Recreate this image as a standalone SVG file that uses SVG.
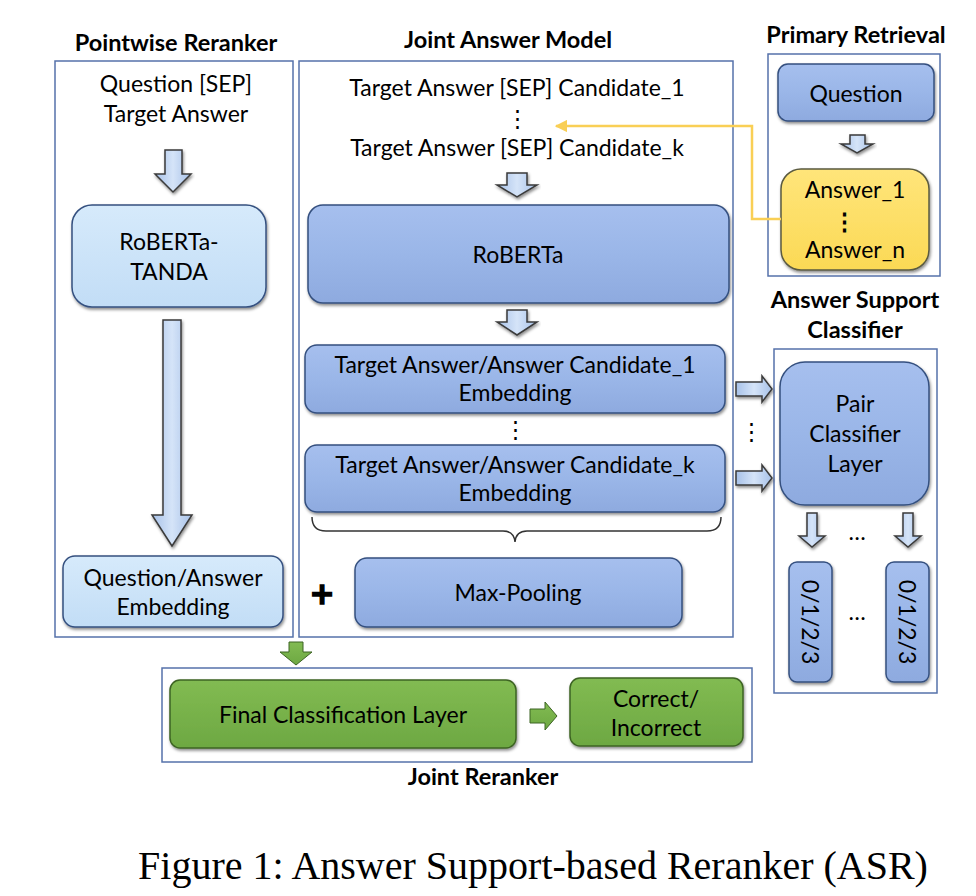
<svg xmlns="http://www.w3.org/2000/svg" width="976" height="896" viewBox="0 0 976 896">
<defs>
<style>
.panel{fill:none;stroke:#5572aa;stroke-width:1.5}
.title{font-family:Lato,"Liberation Sans",sans-serif;font-weight:bold;font-size:23.5px;fill:#000;text-anchor:middle}
.t{font-family:Lato,"Liberation Sans",sans-serif;font-size:23px;fill:#000;text-anchor:middle}
.blue{fill:url(#gBlue);stroke:#34507f;stroke-width:1.5;filter:url(#sh)}
.light{fill:url(#gLight);stroke:#34507f;stroke-width:1.5;filter:url(#sh)}
.yellow{fill:url(#gYellow);stroke:#5a5a40;stroke-width:1.5;filter:url(#sh)}
.green{fill:url(#gGreen);stroke:#3d6424;stroke-width:1.5;filter:url(#sh)}
.arr{fill:url(#gArr);stroke:#3a3a3a;stroke-width:1.5;filter:url(#sh)}
.garr{fill:url(#gGreen);stroke:#3d6424;stroke-width:1}
</style>
<linearGradient id="gBlue" x1="0" y1="0" x2="0" y2="1"><stop offset="0" stop-color="#a6bfee"/><stop offset="0.5" stop-color="#9ab6e8"/><stop offset="1" stop-color="#8eaadf"/></linearGradient>
<linearGradient id="gLight" x1="0" y1="0" x2="0" y2="1"><stop offset="0" stop-color="#d6eafb"/><stop offset="1" stop-color="#c2ddf6"/></linearGradient>
<linearGradient id="gYellow" x1="0" y1="0" x2="0" y2="1"><stop offset="0" stop-color="#ffe57a"/><stop offset="1" stop-color="#fbd955"/></linearGradient>
<linearGradient id="gGreen" x1="0" y1="0" x2="0" y2="1"><stop offset="0" stop-color="#82bb52"/><stop offset="1" stop-color="#6da842"/></linearGradient>
<linearGradient id="gArr" x1="0" y1="0" x2="1" y2="0"><stop offset="0" stop-color="#a7c1e8"/><stop offset="0.5" stop-color="#d5e4f8"/><stop offset="1" stop-color="#a7c1e8"/></linearGradient>
<filter id="sh" x="-10%" y="-10%" width="120%" height="130%"><feDropShadow dx="1" dy="2" stdDeviation="1.5" flood-color="#000" flood-opacity="0.45"/></filter>
<marker id="ya" viewBox="0 0 10 10" refX="9" refY="5" markerWidth="5" markerHeight="5" orient="auto-start-reverse"><path d="M0,0 L10,5 L0,10 z" fill="#f9cf55"/></marker>
</defs>
<rect width="976" height="896" fill="#fff"/>

<!-- Panels -->
<g id="pointwise-reranker">
<text class="title" x="176" y="51">Pointwise Reranker</text>
<rect class="panel" x="55" y="61" width="238" height="576"/>
<text class="t" x="176" y="92">Question [SEP]</text>
<text class="t" x="176" y="122">Target Answer</text>
</g>
<g id="joint-answer-model">
<text class="title" x="508" y="48">Joint Answer Model</text>
<rect class="panel" x="299" y="61" width="434" height="576"/>
<text class="t" x="517" y="96">Target Answer [SEP] Candidate_1</text>
<text class="t" x="517" y="126">⋮</text>
<text class="t" x="517" y="156">Target Answer [SEP] Candidate_k</text>
</g>
<g id="primary-retrieval">
<text class="title" x="856" y="43">Primary Retrieval</text>
<rect class="panel" x="768" y="54" width="172" height="222"/>
</g>
<g id="answer-support-classifier">
<text class="title" x="855" y="308">Answer Support</text>
<text class="title" x="855" y="338">Classifier</text>
<rect class="panel" x="774" y="349" width="163" height="344"/>
</g>
<g id="joint-reranker">
<rect class="panel" x="162" y="668" width="590" height="94"/>
<text class="title" x="483" y="785">Joint Reranker</text>
</g>

<!-- Nodes -->
<g id="roberta-tanda"><rect class="light" x="72" y="205" width="194" height="102" rx="20"/><text class="t" x="169" y="250">RoBERTa-</text><text class="t" x="169" y="280">TANDA</text></g>
<g id="qa-embedding"><rect class="light" x="63" y="556" width="220" height="71" rx="12"/><text class="t" x="173" y="586">Question/Answer</text><text class="t" x="173" y="615">Embedding</text></g>
<g id="roberta"><rect class="blue" x="308" y="205" width="421" height="98" rx="15"/><text class="t" x="518" y="263">RoBERTa</text></g>
<g id="embedding-1"><rect class="blue" x="305" y="345" width="420" height="68" rx="12"/><text class="t" x="515" y="373">Target Answer/Answer Candidate_1</text><text class="t" x="515" y="401">Embedding</text></g>
<text class="t" x="515" y="437">⋮</text>
<g id="embedding-k"><rect class="blue" x="305" y="445" width="420" height="67" rx="12"/><text class="t" x="515" y="473">Target Answer/Answer Candidate_k</text><text class="t" x="515" y="501">Embedding</text></g>
<g id="max-pooling"><rect class="blue" x="355" y="558" width="327" height="69" rx="12"/><text class="t" x="518" y="601">Max-Pooling</text></g>
<text x="322" y="604" font-family="DejaVu Sans,sans-serif" font-weight="bold" font-size="30" text-anchor="middle" fill="#000" stroke="#000" stroke-width="1.5">+</text>
<g id="question"><rect class="blue" x="778" y="64" width="156" height="57" rx="10"/><text class="t" x="856" y="102">Question</text></g>
<g id="answers"><rect class="yellow" x="781" y="169" width="148" height="101" rx="20"/><text class="t" x="855" y="198">Answer_1</text><text class="t" x="844" y="229" font-weight="bold">⋮</text><text class="t" x="855" y="258">Answer_n</text></g>
<g id="pair-classifier"><rect class="blue" x="780" y="362" width="149" height="143" rx="25"/><text class="t" x="855" y="412">Pair</text><text class="t" x="855" y="442">Classifier</text><text class="t" x="855" y="472">Layer</text></g>
<text class="t" x="751" y="439">⋮</text>
<text class="t" x="857" y="540">…</text>
<g id="label-1"><rect class="blue" x="789" y="562" width="43" height="120" rx="8"/><text class="t" transform="translate(802,622) rotate(90)" x="0" y="0">0/1/2/3</text></g>
<text class="t" x="857" y="620">…</text>
<g id="label-n"><rect class="blue" x="886" y="562" width="43" height="120" rx="8"/><text class="t" transform="translate(899,622) rotate(90)" x="0" y="0">0/1/2/3</text></g>
<g id="final-classification"><rect class="green" x="170" y="680" width="346" height="68" rx="10"/><text class="t" x="343" y="723">Final Classification Layer</text></g>
<g id="correct-incorrect"><rect class="green" x="570" y="678" width="173" height="68" rx="10"/><text class="t" x="656" y="707">Correct/</text><text class="t" x="656" y="736">Incorrect</text></g>

<!-- Connectors -->
<g id="connectors">
<path class="arr" d="M165,150 H182 V174 H191 L173,192 L155,174 H165 Z"/>
<path class="arr" d="M163,320 H181 V515 H192 L172,546 L152,515 H163 Z"/>
<path class="arr" d="M507,173 H527 V185 H537 L517,197 L497,185 H507 Z"/>
<path class="arr" d="M507,310 H527 V322 H537 L517,335 L497,322 H507 Z"/>
<path class="arr" d="M850,135 H865 V144 H873 L857,153 L841,144 H850 Z"/>
<path class="arr" d="M736,382 H762 V376 L772,389 L762,402 V396 H736 Z"/>
<path class="arr" d="M736,471 H762 V465 L772,478 L762,491 V485 H736 Z"/>
<path class="arr" d="M807,513 H817 V536 H825 L812,547 L799,536 H807 Z"/>
<path class="arr" d="M903,513 H913 V536 H921 L908,547 L895,536 H903 Z"/>
<path class="garr" d="M289,642 H303 V652 H312 L296,665 L280,652 H289 Z"/>
<path class="garr" d="M530,709 H545 V702 L557,716 L545,730 V723 H530 Z"/>
<path d="M312,517 Q312,531 326,531 L503,531 Q514,531 515,542 Q516,531 527,531 L707,531 Q721,531 721,517" fill="none" stroke="#333" stroke-width="1.5"/>
<path d="M781,219 H752 V126 H556" fill="none" stroke="#f9cf55" stroke-width="2.5" marker-end="url(#ya)"/>
</g>

<text x="533" y="879" font-family="Liberation Serif,serif" font-size="40" text-anchor="middle" fill="#000">Figure 1: Answer Support-based Reranker (ASR)</text>
</svg>
